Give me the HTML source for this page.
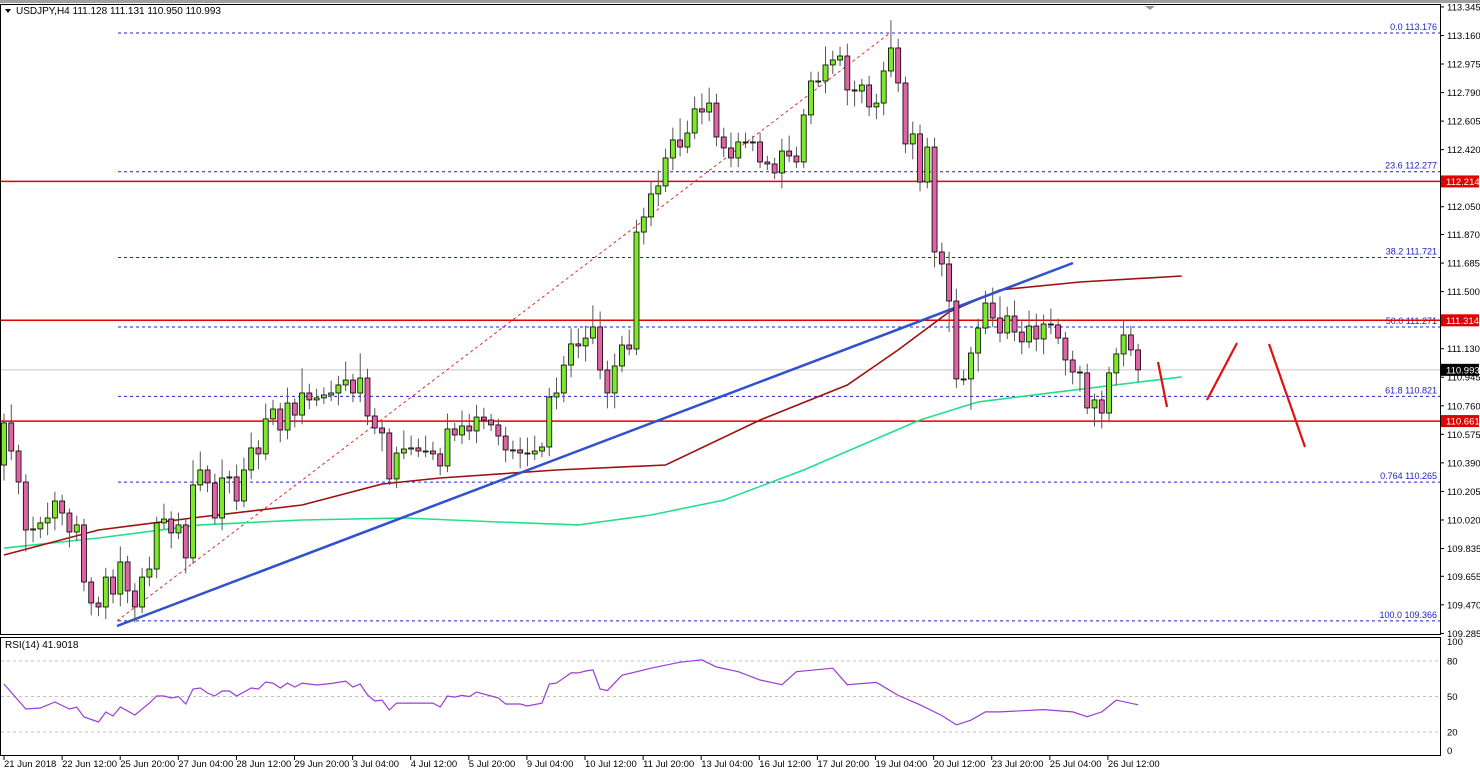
<!DOCTYPE html>
<html><head><meta charset="utf-8"><style>
html,body{margin:0;padding:0;background:#fff;}
svg{display:block;font-family:"Liberation Sans",sans-serif;}
</style></head><body>
<svg id="chart" width="1480" height="772" viewBox="0 0 1480 772" xmlns="http://www.w3.org/2000/svg">
<rect x="0" y="0" width="1480" height="772" fill="#fff"/>
<rect x="0" y="0" width="1480" height="3" fill="#a0a0a0"/>
<g id="main"></g>
<rect x="0.5" y="4.5" width="1440" height="630" fill="none" stroke="#000"/>
<rect x="0.5" y="637.5" width="1440" height="118" fill="none" stroke="#000"/>
<path d="M1145 6 L1155 6 L1150 10 Z" fill="#999"/>
<text x="16" y="14" font-size="10" fill="#000">USDJPY,H4  111.128 111.131 110.950 110.993</text>
<path d="M5 9 L11 9 L8 13 Z" fill="#000"/>
<text x="5" y="648" font-size="10" fill="#000">RSI(14) 41.9018</text>
</svg>
<script>
const closes=[110.649,110.467,110.266,109.955,109.962,110.001,110.033,110.143,110.065,109.942,109.988,109.618,109.482,109.456,109.650,109.540,109.748,109.560,109.456,109.650,109.702,110.001,110.026,109.936,109.988,109.774,110.247,110.344,110.260,110.033,110.292,110.299,110.143,110.344,110.487,110.448,110.675,110.739,110.603,110.778,110.700,110.843,110.798,110.811,110.830,110.843,110.895,110.927,110.843,110.940,110.694,110.616,110.584,110.286,110.454,110.480,110.487,110.467,110.467,110.448,110.370,110.610,110.571,110.629,110.597,110.687,110.668,110.636,110.564,110.474,110.474,110.454,110.448,110.467,110.493,110.817,110.843,111.024,111.161,111.148,111.199,111.271,110.992,110.843,111.018,111.154,111.128,111.886,111.984,112.133,112.185,112.366,112.483,112.437,112.528,112.684,112.664,112.722,112.502,112.431,112.366,112.470,112.470,112.470,112.340,112.327,112.269,112.411,112.379,112.340,112.645,112.865,112.865,112.969,113.001,113.027,112.807,112.800,112.839,112.697,112.722,112.930,113.079,112.852,112.457,112.522,112.210,112.437,111.757,111.679,111.439,110.934,110.934,111.102,111.264,111.426,111.329,111.232,111.342,111.238,111.174,111.277,111.193,111.290,111.284,111.199,111.057,110.979,110.973,110.746,110.798,110.713,110.973,111.096,111.219,111.122,110.993];
const firstOpen=110.376;
const wickUp=[6,12,4,5,8,4,10,6,4,3,6,4,3,4,6,5,10,4,5,6,8,4,10,5,8,4,16,12,3,6,12,4,8,8,10,5,10,6,4,10,3,16,6,6,5,8,6,12,4,16,6,5,4,3,4,12,8,6,10,6,4,10,4,10,8,8,6,4,4,6,6,8,10,10,3,6,10,6,10,10,8,14,10,6,8,6,10,8,6,8,10,6,8,14,8,8,10,10,6,6,10,6,6,4,6,4,4,8,10,6,4,6,6,12,6,6,8,6,4,6,6,6,18,6,4,8,6,6,6,6,8,8,6,4,6,8,10,14,6,10,8,10,8,6,10,4,4,6,4,6,4,6,4,4,10,6,4];
const wickDn=[10,6,8,14,8,6,8,8,8,10,6,6,8,6,8,6,8,8,10,4,6,6,4,10,4,10,4,4,6,4,8,10,6,4,6,10,4,4,8,6,8,6,6,4,4,4,8,4,6,6,6,4,12,4,6,4,4,4,4,4,6,4,4,6,6,8,6,4,6,8,6,10,8,4,4,6,8,6,8,8,10,4,6,10,10,4,4,4,8,6,8,4,8,6,4,4,8,6,6,6,6,6,4,6,4,4,4,10,4,4,4,6,4,8,6,4,10,10,8,6,8,8,4,6,6,10,6,4,10,8,20,6,4,20,12,4,6,6,4,6,8,4,8,10,6,4,10,8,12,4,12,10,6,8,8,4,8];
const maRedIdx=[0,13,27,41,52,60,76,91,104,116,123,130,137,148,162];
const maRedVal=[109.793,109.955,110.039,110.117,110.253,110.292,110.344,110.376,110.668,110.895,111.122,111.368,111.511,111.562,111.601];
const maGreenIdx=[0,13,27,41,55,68,79,89,99,110,118,126,134,145,162];
const maGreenVal=[109.838,109.903,109.988,110.020,110.033,110.007,109.988,110.052,110.149,110.344,110.506,110.668,110.785,110.850,110.947];
const rsiIdx=[0,3,5,7,9,10,11,13,14,15,16,18,20,21,22,23,24,25,26,27,28,29,30,31,32,34,35,36,37,38,39,40,41,43,45,47,48,49,50,51,52,53,54,59,60,61,62,63,64,65,67,68,69,71,72,74,75,76,78,79,80,81,82,83,85,89,93,96,98,101,104,107,109,114,116,120,123,126,129,131,133,135,137,143,147,149,151,153,156];
const rsiVal=[60.6,39.5,40.3,45.4,39.5,41,32.7,28.5,36.9,33.6,41.2,34.4,44.5,50.5,50.5,48.8,50,43.7,56.4,57.2,53,50.5,54.7,54.7,50.5,57.2,56.4,62.3,61.4,57.2,61.4,58,61.4,59.8,61,63.1,58,60.6,51.3,46.2,47,38.6,44.5,44.5,41.2,50.5,49.5,51,50,53.8,50.5,48.8,43.7,43.7,42,44.5,60.6,61.4,70,70,71.6,72.5,56.4,55,68,74,79,81,75,71,64,60,71,74,60,62,51,43,34,26,30,37,37,39,37,33,37,47,43];
const fibVals=[113.176,112.277,111.721,111.271,110.821,110.265,109.366];
const fibLabels=["0.0 113.176","23.6 112.277","38.2 111.721","50.0 111.271","61.8 110.821","0.764 110.265","100.0 109.366"];
const levels=[112.214,111.314,110.661];
const lastPrice=110.993;
const yTicks=[113.345,113.160,112.975,112.790,112.605,112.420,112.050,111.870,111.685,111.500,111.130,110.945,110.760,110.575,110.390,110.205,110.020,109.835,109.655,109.470,109.285];
const xLabels=["21 Jun 2018","22 Jun 12:00","25 Jun 20:00","27 Jun 04:00","28 Jun 12:00","29 Jun 20:00","3 Jul 04:00","4 Jul 12:00","5 Jul 20:00","9 Jul 04:00","10 Jul 12:00","11 Jul 20:00","13 Jul 04:00","16 Jul 12:00","17 Jul 20:00","19 Jul 04:00","20 Jul 12:00","23 Jul 20:00","25 Jul 04:00","26 Jul 12:00"];
const rsiLevels=[80,50,20];
const rsiAxis=[100,80,50,20,0];

const NS="http://www.w3.org/2000/svg";
const g=document.getElementById('main');
const svg=document.getElementById('chart');
function yP(p){return 33+(113.176-p)*154.3;}
function xI(i){return 4+i*7.27;}
function yR(v){return 755.7-v*1.183;}
function mk(tag,attrs,parent){const e=document.createElementNS(NS,tag);for(const k in attrs)e.setAttribute(k,attrs[k]);(parent||g).appendChild(e);return e;}

// fib dotted lines
fibVals.forEach((v,i)=>{
  const l=mk('line',{x1:118,x2:1440,y1:yP(v),y2:yP(v),stroke:'#2020c8','stroke-width':1,'stroke-dasharray':'3,3'});
  
  
  const t=mk('text',{x:1437,y:yP(v)-3,'font-size':9,fill:'#2020c8','text-anchor':'end'});
  t.textContent=fibLabels[i];
  
  
});
// current price line
{const l=mk('line',{x1:1,x2:1440,y1:yP(lastPrice),y2:yP(lastPrice),stroke:'#c8c8c8','stroke-width':1});

}
// red levels
levels.forEach(v=>{
  const l=mk('line',{x1:1,x2:1440,y1:yP(v),y2:yP(v),stroke:'#e00000','stroke-width':1.5});
  
  
});
// fib dashed red diagonal
{const l=mk('line',{x1:117,y1:yP(109.366),x2:890,y2:yP(113.176),stroke:'#e03030','stroke-width':1,'stroke-dasharray':'3,3'});

}
// moving averages
function poly(idx,vals,color,name){
  const pts=idx.map((i,k)=>xI(i).toFixed(1)+','+yP(vals[k]).toFixed(1)).join(' ');
  const p=mk('polyline',{points:pts,fill:'none',stroke:color,'stroke-width':1.6});
  
  
}
poly(maGreenIdx,maGreenVal,'#22e08a','moving-average-200');
poly(maRedIdx,maRedVal,'#a01010','moving-average-100');
// trendline
{const l=mk('line',{x1:117,y1:626,x2:1073,y2:263,stroke:'#3050d0','stroke-width':2.5});

}
// candles
let prev=firstOpen;
closes.forEach((c,i)=>{
  const o=prev; prev=c;
  const hi=Math.max(o,c)+wickUp[i]*0.01, lo=Math.min(o,c)-wickDn[i]*0.01;
  const x=xI(i);
  const w=mk('line',{x1:x,x2:x,y1:yP(hi),y2:yP(lo),stroke:'#555','stroke-width':1});
  
  
  const top=yP(Math.max(o,c)), h=Math.max(1,yP(Math.min(o,c))-top);
  const b=mk('rect',{x:x-2.5,y:top,width:5,height:h,fill:c>=o?'#7ee82a':'#e063a6',stroke:'#000','stroke-width':0.8});
  
  
});
// hand-drawn red arrows
[[1158,362,1167,407],[1207,400,1237,343],[1269,344,1305,447]].forEach(s=>{
  const l=mk('line',{x1:s[0],y1:s[1],x2:s[2],y2:s[3],stroke:'#e01010','stroke-width':2.2});
  
  
});
// y axis
yTicks.forEach(v=>{
  mk('line',{x1:1440,x2:1444,y1:yP(v),y2:yP(v),stroke:'#000'});
  const t=mk('text',{x:1447,y:yP(v)+3.5,'font-size':9.5,fill:'#000'});
  t.textContent=v.toFixed(3);
  
  
});
function tag(v,bg,name){
  const r=mk('rect',{x:1441,y:yP(v)-6,width:38,height:12,fill:bg});
  
  
  const t=mk('text',{x:1446,y:yP(v)+3.5,'font-size':9.5,fill:'#fff'});
  t.textContent=v.toFixed(3);
  
  
}
levels.forEach(v=>tag(v,'#e00000','level-price-tag'));
tag(lastPrice,'#000','current-price-tag');
// RSI
rsiLevels.forEach(v=>{
  const l=mk('line',{x1:1,x2:1440,y1:yR(v),y2:yR(v),stroke:'#c0c0c0','stroke-dasharray':'3,3'});
  
  
});
rsiAxis.forEach(v=>{
  const t=mk('text',{x:1447,y:Math.min(754,Math.max(645,yR(v)+3.5)),'font-size':9.5,fill:'#000'});
  t.textContent=v;
  
  
});
{const pts=rsiIdx.map((i,k)=>xI(i).toFixed(1)+','+yR(rsiVal[k]).toFixed(1)).join(' ');
const p=mk('polyline',{points:pts,fill:'none',stroke:'#9a3cd8','stroke-width':1.2});

}
// x axis
xLabels.forEach((s,i)=>{
  const x=4+i*58.1;
  mk('line',{x1:x,x2:x,y1:756,y2:760,stroke:'#000'});
  const t=mk('text',{x:x,y:767,'font-size':9.5,fill:'#000'});
  t.textContent=s;
  
  
});
</script>
</body></html>
